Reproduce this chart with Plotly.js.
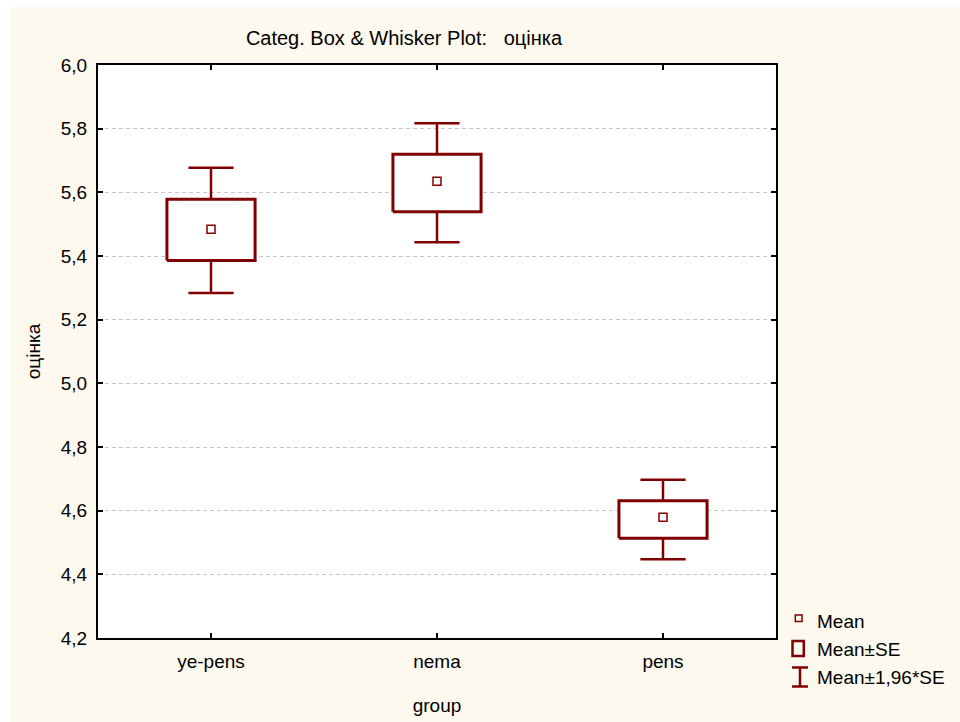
<!DOCTYPE html>
<html>
<head>
<meta charset="utf-8">
<script src="https://cdn.plot.ly/plotly-3.0.1.min.js"></script>
<style>html,body{margin:0;padding:0;background:#fff;}#chart{width:960px;height:722px;}</style>
</head>
<body>
<div id="chart"></div>
<script>
// ---- data ----
const categories = ['ye-pens', 'nema', 'pens'];
const means      = [5.484, 5.635, 4.579];
const seLow      = [5.386, 5.539, 4.513];   // Mean - SE
const seHigh     = [5.578, 5.720, 4.631];   // Mean + SE
const ciLow      = [5.284, 5.443, 4.447];   // Mean - 1.96*SE
const ciHigh     = [5.677, 5.817, 4.697];   // Mean + 1.96*SE
const yTickVals  = [4.2, 4.4, 4.6, 4.8, 5.0, 5.2, 5.4, 5.6, 5.8, 6.0];
const legendLabels = ['Mean', 'Mean±SE', 'Mean±1,96*SE'];

// ---- style ----
const RED = '#800000';
const CREAM = '#fdf9ef';
const FONT = 'Liberation Sans, Arial, sans-serif';
const W = 960, H = 722, ML = 98, MR = 184, MT = 65, MB = 84;
const PW = W - ML - MR, PH = H - MT - MB;
const xp = X => (X - ML) / PW;
const yp = Y => (H - MB - Y) / PH;
const BOX_HALF = 0.195, CAP_HALF = 0.1;
const xIdx = categories.map((c, i) => i);

const traces = [];
// whiskers (Mean±1.96*SE)
categories.forEach((c, i) => {
  const x = xIdx[i];
  traces.push({
    type: 'scatter', mode: 'lines', showlegend: false, hoverinfo: 'skip',
    x: [x, x, null, x - CAP_HALF, x + CAP_HALF, null, x, x, null, x - CAP_HALF, x + CAP_HALF],
    y: [seHigh[i], ciHigh[i], null, ciHigh[i], ciHigh[i], null, seLow[i], ciLow[i], null, ciLow[i], ciLow[i]],
    line: {color: RED, width: 2.5}
  });
});
// boxes (Mean±SE)
categories.forEach((c, i) => {
  const x = xIdx[i];
  traces.push({
    type: 'scatter', mode: 'lines', showlegend: false, hoverinfo: 'skip',
    x: [x - BOX_HALF, x + BOX_HALF, x + BOX_HALF, x - BOX_HALF, x - BOX_HALF],
    y: [seLow[i], seLow[i], seHigh[i], seHigh[i], seLow[i]],
    fill: 'toself', fillcolor: '#ffffff',
    line: {color: RED, width: 3}
  });
});
// means
traces.push({
  type: 'scatter', mode: 'markers', showlegend: false,
  x: xIdx, y: means,
  marker: {symbol: 'square-open', size: 8, color: RED, line: {width: 1.5, color: RED}}
});

const shapes = [
  {type: 'rect', xref: 'paper', yref: 'paper', x0: xp(0), x1: xp(10), y0: yp(H), y1: yp(0), fillcolor: '#ffffff', line: {width: 0}, layer: 'below'},
  {type: 'rect', xref: 'paper', yref: 'paper', x0: xp(0), x1: xp(W), y0: yp(7), y1: yp(0), fillcolor: '#ffffff', line: {width: 0}, layer: 'below'},
  // legend symbols
  {type: 'rect', xref: 'paper', yref: 'paper', x0: xp(795.3), x1: xp(802), y0: yp(621.6), y1: yp(615), line: {color: RED, width: 1.5}},
  {type: 'rect', xref: 'paper', yref: 'paper', x0: xp(792.5), x1: xp(803.8), y0: yp(656), y1: yp(641), line: {color: RED, width: 2.5}},
  {type: 'line', xref: 'paper', yref: 'paper', x0: xp(792), x1: xp(808), y0: yp(667.5), y1: yp(667.5), line: {color: RED, width: 2.5}},
  {type: 'line', xref: 'paper', yref: 'paper', x0: xp(792), x1: xp(808), y0: yp(686.5), y1: yp(686.5), line: {color: RED, width: 2.5}},
  {type: 'line', xref: 'paper', yref: 'paper', x0: xp(800), x1: xp(800), y0: yp(667.5), y1: yp(686.5), line: {color: RED, width: 2.5}}
];

const legendY = [621.7, 649.3, 677.3];
const annotations = legendLabels.map((t, i) => ({
  text: t, xref: 'paper', yref: 'paper', x: xp(815), y: yp(legendY[i]),
  xanchor: 'left', yanchor: 'middle', showarrow: false,
  font: {family: FONT, size: 19, color: '#000'}
}));

const layout = {
  width: W, height: H,
  margin: {l: ML, r: MR, t: MT, b: MB, pad: 0},
  paper_bgcolor: CREAM, plot_bgcolor: '#ffffff',
  separators: ', ',
  showlegend: false,
  font: {family: FONT, size: 19, color: '#000'},
  title: {
    text: 'Categ. Box & Whisker Plot:\u00a0\u00a0\u00a0оцінка',
    xref: 'container', yref: 'container', x: 404 / W, xanchor: 'center',
    y: 1 - 38 / H, yanchor: 'middle',
    font: {family: FONT, size: 20, color: '#000'}
  },
  xaxis: {
    range: [-0.5, 2.5], tickmode: 'array', tickvals: xIdx, ticktext: categories,
    showgrid: false, zeroline: false,
    showline: true, linecolor: '#000', linewidth: 2, mirror: 'ticks',
    ticks: 'inside', ticklen: 5, tickwidth: 2, tickcolor: '#000',
    ticklabelstandoff: 5,
    tickfont: {family: FONT, size: 19, color: '#000'},
    title: {text: 'group', standoff: 28, font: {family: FONT, size: 19, color: '#000'}},
    automargin: false, fixedrange: true
  },
  yaxis: {
    range: [4.2, 6.0], tickmode: 'array', tickvals: yTickVals, tickformat: '.1f',
    showgrid: true, gridcolor: '#c8c8c8', gridwidth: 1, griddash: '4px,3px',
    zeroline: false,
    showline: true, linecolor: '#000', linewidth: 2, mirror: 'ticks',
    ticks: 'inside', ticklen: 5, tickwidth: 2, tickcolor: '#000',
    ticklabelstandoff: 5,
    tickfont: {family: FONT, size: 19, color: '#000'},
    title: {text: 'оцінка', standoff: 15, font: {family: FONT, size: 19, color: '#000'}},
    automargin: false, fixedrange: true
  },
  shapes: shapes,
  annotations: annotations
};

Plotly.newPlot('chart', traces, layout, {displayModeBar: false, staticPlot: true});
</script>
</body>
</html>
